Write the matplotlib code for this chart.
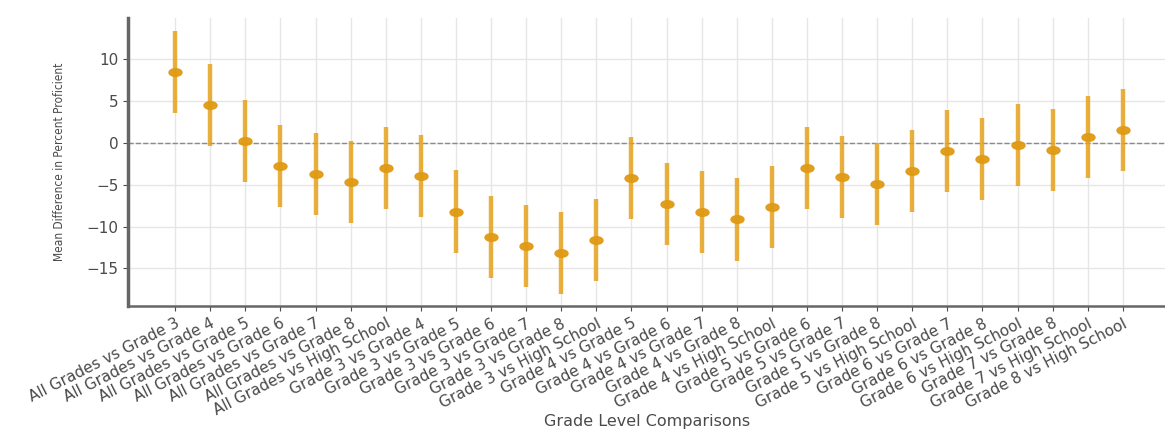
import matplotlib

matplotlib.use("Agg")
import matplotlib.pyplot as plt
from matplotlib.markers import MarkerStyle
from matplotlib.transforms import Affine2D

comparisons = [
    "All Grades vs Grade 3", "All Grades vs Grade 4", "All Grades vs Grade 5",
    "All Grades vs Grade 6", "All Grades vs Grade 7", "All Grades vs Grade 8",
    "All Grades vs High School", "Grade 3 vs Grade 4", "Grade 3 vs Grade 5",
    "Grade 3 vs Grade 6", "Grade 3 vs Grade 7", "Grade 3 vs Grade 8",
    "Grade 3 vs High School", "Grade 4 vs Grade 5", "Grade 4 vs Grade 6",
    "Grade 4 vs Grade 7", "Grade 4 vs Grade 8", "Grade 4 vs High School",
    "Grade 5 vs Grade 6", "Grade 5 vs Grade 7", "Grade 5 vs Grade 8",
    "Grade 5 vs High School", "Grade 6 vs Grade 7", "Grade 6 vs Grade 8",
    "Grade 6 vs High School", "Grade 7 vs Grade 8", "Grade 7 vs High School",
    "Grade 8 vs High School",
]
mean_diff = [
    8.5, 4.5, 0.25, -2.75, -3.75, -4.65, -3.05,
    -3.95, -8.2, -11.2, -12.3, -13.1, -11.55,
    -4.25, -7.3, -8.3, -9.15, -7.65,
    -3.0, -4.05, -4.9, -3.4,
    -1.0, -1.9, -0.3,
    -0.9, 0.7,
    1.5,
]
ci_half = [
    4.9, 4.9, 4.9, 4.9, 4.9, 4.9, 4.9,
    4.9, 4.9, 4.9, 4.9, 4.9, 4.9,
    4.9, 4.9, 4.9, 4.9, 4.9,
    4.9, 4.9, 4.9, 4.9,
    4.9, 4.9, 4.9,
    4.9, 4.9,
    4.9,
]

TEXT = "#4a4a4a"
GOLD = "#E6A21C"

fig = plt.figure(figsize=(11.65, 4.3), dpi=100)
ax = fig.add_axes([0.11, 0.288, 0.89, 0.67])

# mean markers are squat ellipses rather than circles
wide_dot = MarkerStyle("o", transform=Affine2D().scale(1.7, 1.0))

x = list(range(len(comparisons)))
ax.errorbar(x, mean_diff, yerr=ci_half, fmt="none", ecolor=GOLD,
            elinewidth=3.2, alpha=0.85, capsize=0, zorder=3)
ax.plot(x, mean_diff, linestyle="none", marker=wide_dot, markersize=5.5,
        color="#E09A14", alpha=0.95, zorder=4)
ax.axhline(0, color="#8a8a8a", linestyle="--", linewidth=1, zorder=2)

ax.set_xticks(x)
ax.set_xticklabels(comparisons, rotation=27, ha="right",
                   rotation_mode="anchor", fontsize=11, color=TEXT)
ax.set_xlim(-1.34, 28.2)
ax.set_ylim(-19.5, 14.9)
ax.set_yticks([-15, -10, -5, 0, 5, 10])
ax.tick_params(axis="y", labelsize=11, colors=TEXT)
ax.tick_params(axis="x", colors=TEXT)
ax.set_xlabel("Grade Level Comparisons", fontsize=11.5, color=TEXT)
ax.xaxis.set_label_coords(0.5, -0.375)
ax.set_ylabel("Mean Difference in Percent Proficient", fontsize=8.6,
              color=TEXT, family="DejaVu Sans", fontstretch="condensed")
ax.yaxis.set_label_coords(-0.06, 0.5)
ax.grid(True, color="#e6e6e6", linewidth=1, zorder=0)
ax.set_axisbelow(True)
for side in ("top", "right"):
    ax.spines[side].set_visible(False)
ax.spines["left"].set_color("#666666")
ax.spines["left"].set_linewidth(2.5)
ax.spines["bottom"].set_color("#666666")
ax.spines["bottom"].set_linewidth(1.8)

fig.savefig("out.png", dpi=100)
